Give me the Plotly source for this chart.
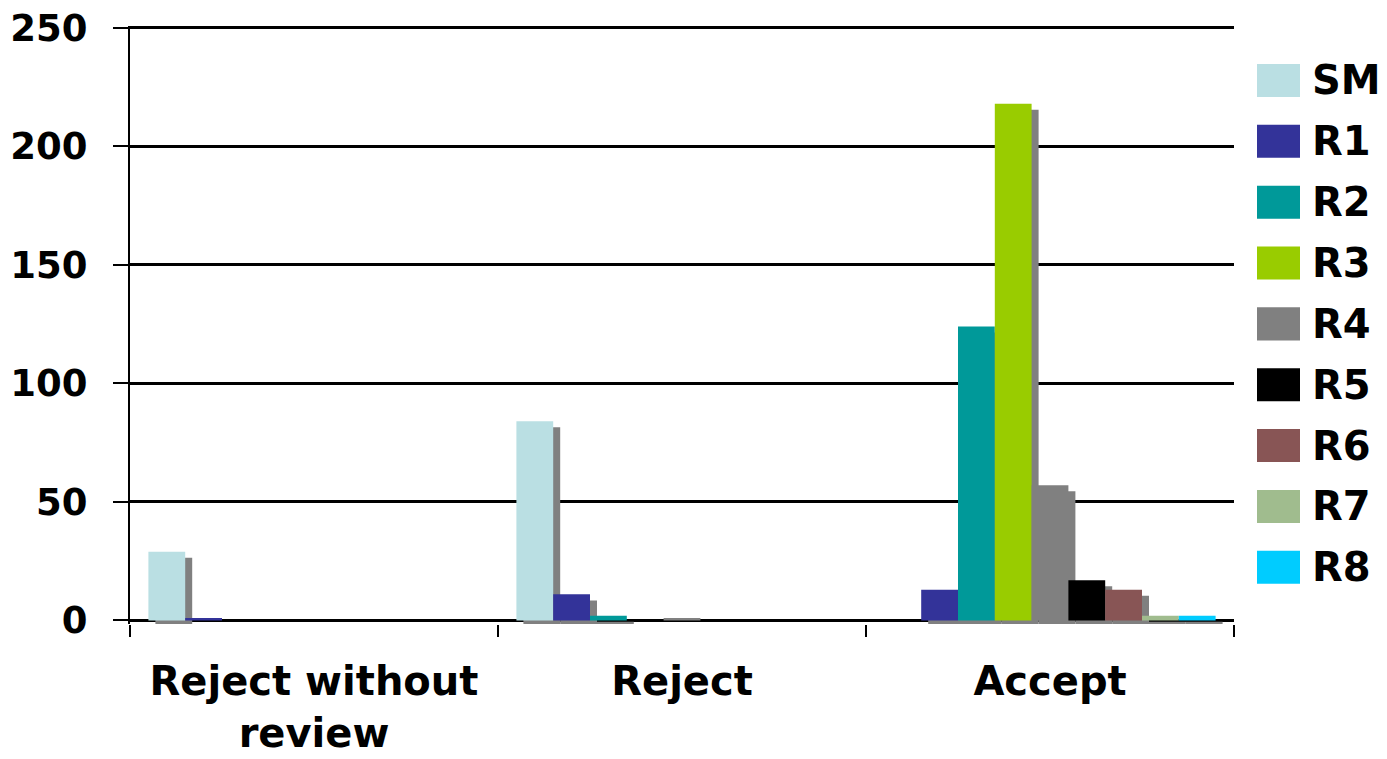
import plotly.graph_objects as go

# ---- data ----
categories = ["Reject without<br>review", "Reject", "Accept"]
series_names = ["SM", "R1", "R2", "R3", "R4", "R5", "R6", "R7", "R8"]
SM = [29, 84, 0]
R1 = [1, 11, 13]
R2 = [0, 2, 124]
R3 = [0, 0, 218]
R4 = [0, 1, 57]
R5 = [0, 0, 17]
R6 = [0, 0, 13]
R7 = [0, 0, 2]
R8 = [0, 0, 2]
series_values = [SM, R1, R2, R3, R4, R5, R6, R7, R8]
y_ticks = [0, 50, 100, 150, 200, 250]

# ---- styles ----
colors = ["#BADFE3", "#333399", "#009999", "#99CC00", "#808080",
          "#000000", "#885555", "#A0BC8E", "#00CCFF"]
shadow_color = "#808080"
FONT = "DejaVu Sans"

W, H = 1387, 759
L, R = 130, 153
Y_MIN, Y_MAX = -1.5, 250.8
px_per_unit = (620 - 28) / 250
T = 28 - (Y_MAX - 250) * px_per_unit
plot_bottom = 620 - Y_MIN * px_per_unit
B = H - plot_bottom
plot_w = W - L - R
plot_h = plot_bottom - T

n = len(series_names)
bar_w = 1.0 / (n + 1)
shadow_dx = 7 / (plot_w / 3)
shadow_dy = 6 / px_per_unit

fig = go.Figure()

# shadows first
for k in range(n):
    fig.add_trace(go.Bar(
        x=categories, y=series_values[k],
        base=[-shadow_dy] * len(categories),
        width=bar_w, offset=-0.5 + bar_w / 2 + k * bar_w + shadow_dx,
        marker=dict(color=shadow_color, line=dict(width=0)),
        showlegend=False, hoverinfo="skip"))

# bars
for k in range(n):
    fig.add_trace(go.Bar(
        x=categories, y=series_values[k], name=series_names[k],
        width=bar_w, offset=-0.5 + bar_w / 2 + k * bar_w,
        marker=dict(color=colors[k], line=dict(width=0)),
        showlegend=False))

# custom legend (large swatches as in the original)
sw_x0 = (1257 - L) / plot_w
sw_x1 = (1300 - L) / plot_w
txt_x = (1310 - L) / plot_w
for k in range(n):
    cy = 80.5 + 60.8 * k
    yc = (plot_bottom - cy) / plot_h
    hh = 16.5 / plot_h
    fig.add_shape(type="rect", xref="paper", yref="paper",
                  x0=sw_x0, x1=sw_x1, y0=yc - hh, y1=yc + hh,
                  fillcolor=colors[k], line=dict(width=0))
    fig.add_annotation(xref="paper", yref="paper", x=txt_x, y=yc,
                       text=series_names[k], showarrow=False,
                       xanchor="left", yanchor="middle",
                       font=dict(family=FONT, size=40, color="black", weight="bold"))

fig.update_layout(
    width=W, height=H, autosize=False,
    margin=dict(l=L, r=R, t=T, b=B, pad=0),
    paper_bgcolor="white", plot_bgcolor="white",
    barmode="overlay", showlegend=False,
    font=dict(family=FONT, color="black"),
)
fig.update_xaxes(
    type="category", range=[-0.5, 2.5], automargin=False,
    tickson="boundaries", ticks="outside", ticklen=12, tickwidth=2,
    tickcolor="black", showline=False, showgrid=False, zeroline=False,
    tickfont=dict(family=FONT, size=40, color="black", weight="bold"),
    ticklabelstandoff=30,
)
fig.update_yaxes(
    range=[Y_MIN, Y_MAX], tickvals=y_ticks, automargin=False,
    ticks="outside", ticklen=15, tickwidth=2, tickcolor="black",
    showline=True, linecolor="black", linewidth=2,
    showgrid=True, gridcolor="black", gridwidth=2.5,
    zeroline=True, zerolinecolor="black", zerolinewidth=3,
    tickfont=dict(family=FONT, size=37, color="black", weight="bold"),
    ticklabelstandoff=18,
)

fig.write_html("out.html")
